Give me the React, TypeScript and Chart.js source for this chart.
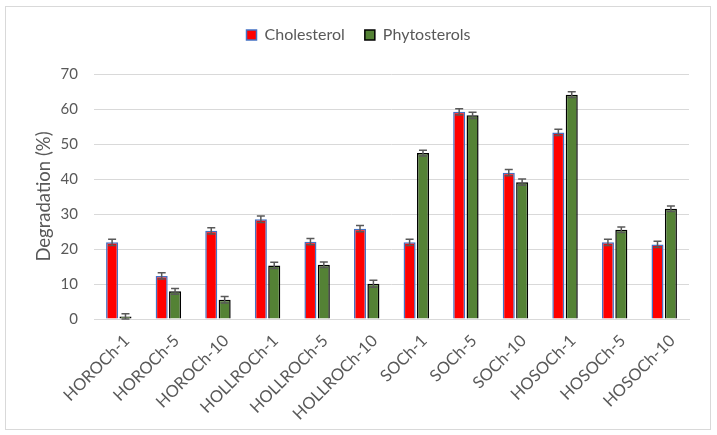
import React, { useEffect, useRef } from "react";
import { Chart, registerables } from "chart.js";

Chart.register(...registerables);

const categories = [
  "HOROCh-1", "HOROCh-5", "HOROCh-10", "HOLLROCh-1", "HOLLROCh-5", "HOLLROCh-10",
  "SOCh-1", "SOCh-5", "SOCh-10", "HOSOCh-1", "HOSOCh-5", "HOSOCh-10",
];
const cholesterol = [21.9, 12.3, 25.2, 28.5, 22.1, 25.8, 21.9, 59.2, 41.8, 53.3, 21.9, 21.3];
const phytosterols = [0.7, 7.9, 5.5, 15.3, 15.5, 10.1, 47.4, 58.2, 39.1, 64.1, 25.5, 31.5];
const cholesterolErr = [0.9, 0.9, 0.9, 0.9, 0.9, 0.9, 0.9, 0.9, 0.9, 0.9, 0.9, 0.9];
const phytosterolsErr = [0.8, 0.8, 0.9, 0.9, 0.8, 1.0, 0.8, 0.9, 0.9, 0.8, 0.8, 0.8];
const yTicks = [0, 10, 20, 30, 40, 50, 60, 70];

const FONT = "Lato";
const TEXT = "#595959";

const errorBars = {
  id: "errorBars",
  afterDatasetsDraw(chart: any) {
    const ctx = chart.ctx;
    const y = chart.scales.y;
    [cholesterolErr, phytosterolsErr].forEach((errs, di) => {
      const meta = chart.getDatasetMeta(di);
      meta.data.forEach((bar: any, i: number) => {
        const v = chart.data.datasets[di].data[i] as number;
        const e = errs[i];
        const yt = y.getPixelForValue(v + e);
        const yb = y.getPixelForValue(Math.max(0, v - e));
        const x = bar.x;
        ctx.save();
        ctx.strokeStyle = "#595959";
        ctx.lineWidth = 1.5;
        ctx.beginPath();
        ctx.moveTo(x, yt);
        ctx.lineTo(x, yb);
        ctx.moveTo(x - 4, yt);
        ctx.lineTo(x + 4, yt);
        ctx.moveTo(x - 4, yb);
        ctx.lineTo(x + 4, yb);
        ctx.stroke();
        ctx.restore();
      });
    });
  },
};

const frame = {
  id: "frame",
  beforeDraw(chart: any) {
    const ctx = chart.ctx;
    ctx.save();
    ctx.fillStyle = "#ffffff";
    ctx.fillRect(0, 0, chart.width, chart.height);
    ctx.strokeStyle = "#d9d9d9";
    ctx.lineWidth = 1;
    ctx.strokeRect(5.5, 6.5, 705, 423);
    ctx.restore();
  },
};

const legendSpacing = {
  id: "legendSpacing",
  beforeInit(chart: any) {
    const legend = chart.legend;
    if (!legend) return;
    const origFit = legend.fit;
    legend.fit = function () {
      origFit.bind(legend)();
      this.height += 21;
    };
  },
};

export default function App() {
  const ref = useRef<HTMLCanvasElement>(null);
  useEffect(() => {
    if (!ref.current) return;
    const chart = new Chart(ref.current, {
      type: "bar",
      data: {
        labels: categories,
        datasets: [
          {
            label: "Cholesterol",
            data: cholesterol,
            backgroundColor: "#FF0000",
            borderColor: "#4472C4",
            borderWidth: 1.5,
            categoryPercentage: 0.54,
            barPercentage: 0.9,
          },
          {
            label: "Phytosterols",
            data: phytosterols,
            backgroundColor: "#548235",
            borderColor: "#000000",
            borderWidth: 1.5,
            categoryPercentage: 0.54,
            barPercentage: 0.9,
          },
        ],
      },
      options: {
        responsive: false,
        animation: false,
        layout: { padding: { top: 7, right: 14, left: 14, bottom: 0 } },
        plugins: {
          legend: {
            position: "top",
            labels: {
              boxWidth: 10,
              boxHeight: 10,
              padding: 20,
              color: TEXT,
              font: { family: FONT, size: 16 },
            },
          },
          tooltip: { enabled: false },
        },
        scales: {
          x: {
            grid: { display: false },
            border: { display: true, color: "#d9d9d9", width: 1 },
            ticks: {
              color: TEXT,
              font: { family: FONT, size: 16.5 },
              maxRotation: 45,
              minRotation: 45,
              autoSkip: false,
              padding: 4,
              labelOffset: 8,
            },
            afterFit(scale: any) {
              scale.height = 435 - 319;
            },
          },
          y: {
            min: 0,
            max: 70,
            afterBuildTicks(scale: any) {
              scale.ticks = yTicks.map((v) => ({ value: v }));
            },
            grid: { color: "#d9d9d9", lineWidth: 1, drawTicks: false },
            border: { display: false },
            ticks: {
              color: TEXT,
              font: { family: FONT, size: 15 },
              padding: 16,
            },
            title: {
              display: true,
              text: "Degradation (%)",
              color: TEXT,
              font: { family: FONT, size: 18.5 },
              padding: { top: 19, bottom: 0 },
            },
            afterFit(scale: any) {
              scale.width = 80;
            },
          },
          yRight: {
            position: "right",
            display: true,
            grid: { display: false },
            border: { display: false },
            ticks: { display: false },
            afterFit(scale: any) {
              scale.width = 14;
            },
          },
        },
      },
      plugins: [frame, legendSpacing, errorBars],
    });
    return () => chart.destroy();
  }, []);
  return (
    <div style={{ position: "absolute", left: 0, top: 0, width: 717, height: 435 }}>
      <canvas ref={ref} width={717} height={435} />
    </div>
  );
}
